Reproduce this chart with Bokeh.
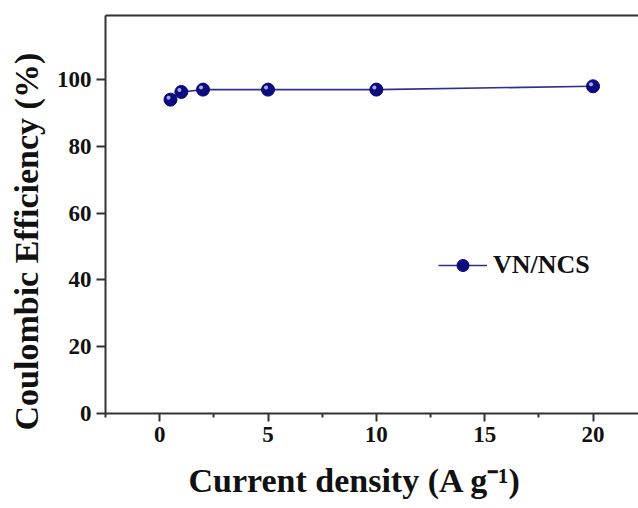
from bokeh.plotting import figure
from bokeh.models import (Range1d, FixedTicker, LinearAxis, Legend, LegendItem,
                          Title, ColumnDataSource)
from bokeh.transform import dodge
from bokeh.embed import file_html
from bokeh.resources import INLINE

# ---- data ----
current_density = [0.5, 1, 2, 5, 10, 20]
coulombic_eff = [94.0, 96.3, 97.0, 97.0, 97.0, 98.0]
series_name = "VN/NCS"
x_major = [0, 5, 10, 15, 20]
x_minor = [-2.5, 2.5, 7.5, 12.5, 17.5]
y_major = [0, 20, 40, 60, 80, 100]
x_title = "Current density (A g\u207b\u00b9)"
y_title = "Coulombic Efficiency (%)"

FONT = "Liberation Serif"
AXC = "#333333"
TXT = "#111111"
LINE_C = "#2e2e8f"
MARK_C = "#0c0c80"

p = figure(width=638, height=508, output_backend="svg", toolbar_location=None,
           x_range=Range1d(-2.5, 22.1), y_range=Range1d(0, 119.2),
           min_border_left=105, min_border_right=0, min_border_top=15,
           min_border_bottom=95, background_fill_color="white",
           border_fill_color="white")
p.outline_line_color = None
p.xgrid.visible = False
p.ygrid.visible = False

src = ColumnDataSource(dict(x=current_density, y=coulombic_eff))
ln = p.line("x", "y", source=src, line_color=LINE_C, line_width=1.6)
sc = p.scatter("x", "y", source=src, size=13, fill_color=MARK_C,
               line_color="#0a0a70", line_width=1)
p.scatter(dodge("x", -0.09, range=p.x_range), dodge("y", 0.6, range=p.y_range),
          source=src, size=4, fill_color="#a8a8ee", line_color=None)

# axes
for ax in (p.xaxis[0], p.yaxis[0]):
    ax.axis_line_width = 2
    ax.axis_line_color = AXC
    ax.major_tick_line_color = AXC
    ax.major_tick_line_width = 2
    ax.minor_tick_line_color = AXC
    ax.minor_tick_line_width = 2
    ax.major_tick_in = 0
    ax.minor_tick_in = 0
    ax.major_label_text_font = FONT
    ax.major_label_text_font_style = "bold"
    ax.major_label_text_font_size = "23px"
    ax.major_label_text_color = TXT
    ax.major_label_standoff = 5

p.xaxis[0].ticker = FixedTicker(ticks=x_major, minor_ticks=x_minor)
p.xaxis[0].major_tick_out = 8
p.xaxis[0].minor_tick_out = 4
p.xaxis[0].axis_label = x_title + "\u00a0\u00a0\u00a0\u00a0"
p.xaxis[0].axis_label_text_font = FONT
p.xaxis[0].axis_label_text_font_style = "bold"
p.xaxis[0].axis_label_text_font_size = "34px"
p.xaxis[0].axis_label_text_color = TXT
p.xaxis[0].axis_label_standoff = 17

p.yaxis[0].ticker = FixedTicker(ticks=y_major, minor_ticks=[])
p.yaxis[0].major_tick_out = 9
p.yaxis[0].minor_tick_out = 0

# top border
top = LinearAxis(ticker=FixedTicker(ticks=[], minor_ticks=[]),
                 axis_line_width=2, axis_line_color=AXC,
                 major_label_text_font_size="0px", major_tick_out=0,
                 minor_tick_out=0)
p.add_layout(top, "above")

# y title
p.add_layout(Title(text=y_title, align="left", offset=-17, vertical_align="top",
                   standoff=13, text_font=FONT, text_font_style="bold",
                   text_font_size="34px", text_color=TXT), "left")

legend = Legend(items=[LegendItem(label=series_name, renderers=[ln, sc])],
                location=(333, 133), glyph_width=49, glyph_height=30,
                label_height=30, label_standoff=6, padding=0, margin=0,
                border_line_color=None, background_fill_alpha=0,
                label_text_font=FONT, label_text_font_style="bold",
                label_text_font_size="26px", label_text_color=TXT)
p.add_layout(legend)

open("out.html", "w").write(file_html(p, INLINE))
